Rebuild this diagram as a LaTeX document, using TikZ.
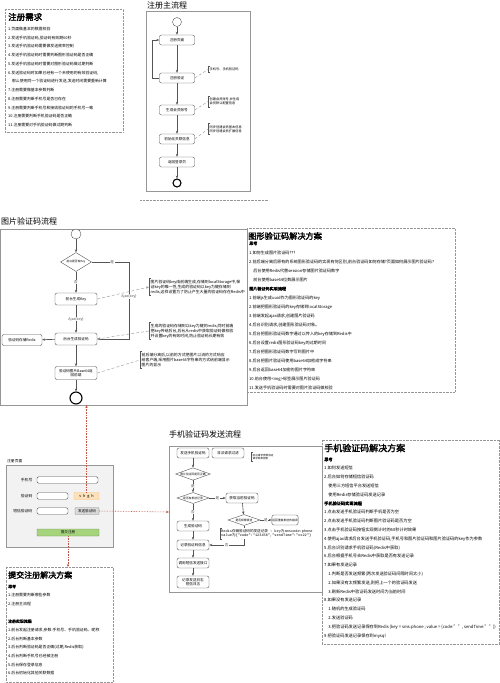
\documentclass[tikz,border=0pt]{standalone}
\usepackage{fontspec}
\setmainfont{Noto Sans CJK SC}[AutoFakeBold=2]
\setmonofont{Liberation Mono}
\usetikzlibrary{arrows.meta,positioning,shapes.geometric,calc}
\definecolor{lnGray}{RGB}{85,85,85}
\definecolor{frGray}{RGB}{150,150,150}
\definecolor{dotRed}{RGB}{190,85,70}
\definecolor{capOrange}{RGB}{252,226,186}
\definecolor{btnGreen}{RGB}{165,212,125}
\definecolor{btnGray}{RGB}{218,218,218}
\definecolor{formBg}{RGB}{242,242,242}

\begin{document}
\begin{tikzpicture}[x=1pt, y=-1pt, font=\fontsize{4}{5}\selectfont]
    \tikzset{flowbox/.style={rectangle, rounded corners=2pt, draw=lnGray, fill=white, minimum width=35,
      minimum height=10, inner sep=0.5pt, align=center, font=\fontsize{3.6}{4.4}\selectfont}}
    \tikzset{decision/.style={diamond, aspect=2.8, draw=lnGray, fill=white, inner sep=0.3pt,
      font=\fontsize{2.8}{3.2}\selectfont}}
    \tikzset{startdot/.style={circle, draw=lnGray, fill=white, minimum size=9, inner sep=0pt}}
    \tikzset{enddot/.style={circle, draw=black, line width=1.1pt, minimum size=10, inner sep=0pt}}
    \tikzset{flowarrow/.style={-{Stealth[length=3pt,width=2.4pt]}, lnGray, semithick}}
    \tikzset{notelink/.style={densely dashed, frGray}}
    \tikzset{notebar/.style={lnGray, thin}}
    \tikzset{notetext/.style={anchor=west, align=left, inner sep=1.5pt, font=\fontsize{3.9}{4.8}\selectfont}}
    \tikzset{soltext/.style={anchor=north west, align=left, inner sep=0pt, font=\fontsize{4.2}{8.8}\selectfont}}
    \tikzset{soltitle/.style={anchor=west, inner sep=0pt, font=\fontsize{9}{10}\selectfont\bfseries}}
    \tikzset{flowtitle/.style={anchor=west, inner sep=0pt, font=\fontsize{8}{9}\selectfont}}
    \tikzset{dotbox/.style={draw=frGray, densely dotted}}
    \tikzset{flowframe/.style={draw=frGray, thin}}
    \tikzset{formfield/.style={rectangle, rounded corners=1.5pt, draw=lnGray, fill=white,
      minimum height=6.5, inner sep=0pt, font=\fontsize{3.6}{4}\selectfont}}
    \tikzset{formlabel/.style={anchor=east, inner sep=0.5pt, font=\fontsize{3.8}{4.5}\selectfont}}
    \tikzset{pagelink/.style={densely dotted, dotRed, semithick, -{Stealth[length=3pt,width=2.4pt]}}}
    \tikzset{brlabel/.style={font=\fontsize{3.6}{4}\selectfont, fill=white, inner sep=0.5pt}}

    \fill[white, use as bounding box] (0,0) rectangle (500,683);

    % Registration requirements
    \draw[dotbox] (5,9) rectangle (123,132);
    \node[soltitle, font=\fontsize{8.5}{9}\selectfont\bfseries] (reqtitle) at (8,17) {注册需求};
    \node[soltext, font=\fontsize{3.9}{8.73}\selectfont] (reqlist) at (8,27) {%
      1.页面做基本的数据校验\\
      2.发送手机验证码,验证码有效期60秒\\
      3.发送手机验证码需要做发送频率控制\\
      4.发送手机验证码时需要判断图形验证码是否正确\\
      5.发送手机验证码时需要对图形验证码做过期判断\\
      6.发送验证码时如果已经有一个未使用的有效验证码,\\
      \quad 那么使用同一个验证码进行发送,发送时间需要重新计算\\
      7.注册需要做基本参数判断\\
      8.注册需要判断手机号是否已存在\\
      9.注册需要判断手机号和接收验证码的手机号一致\\
      10.注册需要判断手机验证码是否正确\\
      11.注册需要对手机验证码做过期判断};

    % Main registration flow
    \node[flowtitle] (mtitle) at (147,5) {注册主流程};
    \draw[flowframe] (146,11) rectangle (250,191);
    \node[startdot] (ms) at (177,22) {};
    \node[flowbox] (rp) at (177,40)  {注册页面};
    \node[flowbox] (rv) at (177,78)  {注册验证};
    \node[flowbox] (rg) at (177,110) {生成会员账号};
    \node[flowbox] (ri) at (177,139) {初始化关联信息};
    \node[flowbox] (rl) at (177,162) {返回登录页};
    \node[enddot, minimum size=8] (me) at (177,183) {};
    \draw[flowarrow] (ms) -- (rp);
    \draw[flowarrow] (rp) -- (rv);
    \draw[flowarrow] (rv) -- (rg);
    \draw[flowarrow] (rg) -- (ri);
    \draw[flowarrow] (ri) -- (rl);
    \draw[flowarrow] (rl) -- (me);
    \draw[flowarrow] (rv.west) -- ++(-7,0) |- (rp.west);
    \node[notetext, font=\fontsize{3.2}{4.4}\selectfont] (rn1) at (208,69.5)  {手机号、手机验证码};
    \node[notetext, font=\fontsize{3.2}{4.4}\selectfont] (rn2) at (208,101.5) {创建会员账号,并生成\\会员默认配置信息};
    \node[notetext, font=\fontsize{3.2}{4.4}\selectfont] (rn3) at (208,129)   {同步创建会员基本信息\\同步创建会员扩展信息};
    \draw[notelink] (rv.east) -- (rn1.west);
    \draw[notelink] (rg.east) -- (rn2.west);
    \draw[notelink] (ri.east) -- (rn3.west);
    \draw[dotbox] (140,200) -- (268,200);

    % Image captcha flow
    \node[flowtitle] (ititle) at (1,221) {图片验证码流程};
    \draw[flowframe] (0.5,229) rectangle (247,405);
    \coordinate (ifbot) at (87,405);
    \node[startdot, minimum size=10] (is) at (76,234) {};
    \node[decision, minimum width=31, minimum height=19] (ikey) at (76,262) {前台是否有Key};
    \node[flowbox, minimum width=42, minimum height=12] (igen) at (76,299) {前台生成Key};
    \node[flowbox, minimum width=42, minimum height=12] (icode) at (76,339) {后台生成验证码};
    \node[flowbox, minimum width=40, minimum height=11] (iredis) at (22,340) {验证码存储Redis};
    \node[flowbox, minimum width=42, minimum height=13] (ib64) at (76,373) {验证码图片Base64返\\回前端};
    \node[enddot, minimum size=12] (ie) at (76,398) {};
    \draw[flowarrow] (is) -- (ikey);
    \draw[flowarrow] (ikey) -- node[brlabel] {否} (igen);
    \draw[flowarrow] (igen) -- node[brlabel] {Ajax(key)} (icode);
    \draw[flowarrow] (ikey.east) -- node[brlabel, pos=0.55] {是} (129,262) -- node[brlabel, pos=0.45] {Ajax(key)} (129,339) -- (icode.east);
    \draw[flowarrow] (icode) -- (iredis);
    \draw[flowarrow] (icode) -- (ib64);
    \draw[flowarrow] (ib64) -- (ie);
    \node[notetext] (in1) at (149,287) {图片验证码key由前端生成,存储到localStorage中,保\\证key的唯一性,生成的验证码以key为键存储到\\redis,这样设置为了防止产生大量的验证码存在Redis中};
    \node[notetext] (in2) at (149,331) {生成的验证码存储到以key为键的redis,同时前端\\把key传给后台,后台从redis中获取验证码做校验\\并设置key的有效时间,防止验证码长期有效};
    \node[notetext] (in3) at (140,360) {前后端分离后,以前的方式把图片以流的方式响应\\给客户端,采用图片base64字符串的方式给前端显示\\图片的显示};
    \draw[notelink, -{Stealth[length=3pt,width=2.4pt]}] (igen.east) -- (in1.west);
    \draw[notelink, -{Stealth[length=3pt,width=2.4pt]}] (in2.west) -- (icode.east);
    \draw[notelink] (ib64.east) -- (in3.west);

    % Image captcha solution
    \draw[dotbox] (247,228) rectangle (455,392);
    \node[soltitle, font=\fontsize{8.2}{9}\selectfont\bfseries] (ititle2) at (248,236) {图形验证码解决方案};
    \node[soltext, font=\fontsize{4.1}{9.06}\selectfont] (isol) at (249,241.3) {%
      {\bfseries 思考}\\
      1.如何生成图片验证码???\\
      2.前后端分离后原有的系统图形验证码的实现有何区别,前台验证码如何存储?页面如何展示图片验证码?\\
      \quad 后台使用Redis代替session存储图片验证码数字\\
      \quad 前台使用base64位数展示图片\\
      {\bfseries 图片验证码实现流程}\\
      1.前端js生成uuid作为图形验证码的key\\
      2.前端把图形验证码的key存储到localStorage\\
      3.前端发起ajax请求,创建图片验证码\\
      4.后台识别请求,创建图形验证码对象。\\
      5.后台把图形验证码数字通过以传入的key存储到Redis中\\
      6.后台设置redis图形验证码key的过期时间\\
      7.后台把图形验证码数字写到图片中\\
      8.后台把图片验证码使用base64加密成字符串\\
      9.后台返回base64加密的图片字符串\\
      10.前台使用<img>标签展示图片验证码\\
      11.发送手机验证码时需要对图片验证码做校验};

    % Registration form
    \node[anchor=west, inner sep=0pt, font=\fontsize{3.8}{4.5}\selectfont] (ftitle) at (7,461) {注册页面};
    \draw[draw=frGray, fill=formBg] (6,465) rectangle (113,547);
    \node[formlabel] (lphone) at (33,480) {手机号};
    \node[formlabel] (lcode)  at (33,496) {验证码};
    \node[formlabel] (lsms)   at (33,511) {短信验证码};
    \node[formfield, minimum width=61] (fphone) at (67.5,480) {};
    \node[formfield, minimum width=31] (fcode)  at (52.5,496) {};
    \node[formfield, minimum width=25, minimum height=7, draw=orange!50, fill=capOrange, rounded corners=0.5pt,
          font=\fontsize{3.8}{4}\selectfont] (fcap) at (86.5,496) {v\,\,\,h\,\,\,g\,\,\,h};
    \node[formfield, minimum width=31] (fsms)   at (52.5,511) {};
    \node[formfield, minimum width=24, draw=gray, fill=btnGray, rounded corners=0.5pt] (fsend) at (87,511) {发送验证码};
    \node[formfield, minimum width=62, minimum height=7, draw=btnGreen!70!black, fill=btnGreen, rounded corners=0.5pt] (fsub) at (68,532.5) {提交注册};
    \coordinate (pfl) at (169,512);
    \coordinate (sbtop) at (68,567);
    \draw[pagelink] (fcap.north) -- (fcap.north |- ifbot);
    \draw[pagelink] (fsend.east) -- (pfl);
    \draw[pagelink] (fsub.south) -- (sbtop);

    % Submit solution
    \draw[dotbox] (6,567) rectangle (113,682);
    \node[soltitle, font=\fontsize{8}{9}\selectfont\bfseries] (stitle) at (8,575) {提交注册解决方案};
    \node[soltext, font=\fontsize{3.9}{8.7}\selectfont] (ssol) at (8,584.5) {%
      {\bfseries 思考}\\
      1.注册需要判断哪些参数\\
      2.注册主流程\\
      \\
      {\bfseries 注册实现流程}\\
      1.前台发起注册请求,参数:手机号、手机验证码、昵称\\
      2.后台判断基本参数\\
      3.后台判断验证码是否正确(过期,Redis获取)\\
      4.后台判断手机号已经被注册\\
      5.后台保存登录信息\\
      6.后台初始化其他关联数据};

    % Phone code flow
    \node[flowtitle] (ptitle) at (169,434) {手机验证码发送流程};
    \draw[flowframe] (169,446) rectangle (322,592);
    \node[flowbox, minimum width=32] (psend) at (193,453) {发送手机验证码};
    \node[flowbox, minimum width=32] (pfilter) at (228,453) {非法请求过滤};
    \node[notetext, font=\fontsize{2.6}{3.4}\selectfont] (pn1) at (251,457) {前台请求参数验证\\请求频率控制};
    \node[decision, minimum width=32, minimum height=11] (pd1) at (193,474) {图片验证码是否正确};
    \node[decision, minimum width=32, minimum height=11] (pd2) at (193,498) {是否有发送记录};
    \node[flowbox, minimum width=32] (pget) at (242,498) {获取当前验证码};
    \node[decision, minimum width=32, minimum height=11] (pd3) at (244,520) {是否频繁发送};
    \node[flowbox, minimum width=24, font=\fontsize{2.8}{3.4}\selectfont] (prep) at (285,520) {返回重复发送的错误};
    \node[flowbox, minimum width=32] (pnew) at (193,526) {生成验证码};
    \node[flowbox, minimum width=32] (prec) at (193,545) {记录验证码信息};
    \node[flowbox, minimum width=32] (pcall) at (193,563) {调用短信发送接口};
    \node[flowbox, minimum width=32, minimum height=12] (plog) at (193,582) {记录发送日志\\短信日志};
    \draw[flowarrow] (psend) -- (pd1);
    \draw[flowarrow] (pd1) -- node[brlabel] {是} (pd2);
    \draw[flowarrow] (pd2) -- node[brlabel] {是} (pget);
    \draw[flowarrow] (pd2) -- node[brlabel] {否} (pnew);
    \draw[flowarrow] (pget) -- (pd3);
    \draw[flowarrow] (pd3) -- node[brlabel] {是} (prep);
    \draw[flowarrow] (pd3.south) |- node[brlabel, pos=0.75] {否} (prec.east);
    \draw[flowarrow] (pnew) -- (prec);
    \draw[flowarrow] (prec) -- (pcall);
    \draw[flowarrow] (pcall) -- (plog);
    \node[notetext, anchor=north west, fill=white, inner sep=1pt, font=\fontsize{3.6}{4.6}\selectfont] (pn2) at (220,528)
      {\texttt{Redis{\rmfamily 存储验证码的发送记录} : key{\rmfamily 为}smscode:phone}\\
       \texttt{value{\rmfamily 为}\{"code":"123456","sendTime":"xx22"\}}};

    % Phone code solution
    \draw[dotbox] (322,440) rectangle (499.5,644);
    \node[soltitle] (ptitle2) at (324,448) {手机验证码解决方案};
    \node[soltext] (psol) at (324,457.3) {%
      {\bfseries 思考}\\
      1.如何发送短信\\
      2.后台如何存储短信验证码\\
      \quad 使用三方短信平台发送短信\\
      \quad 使用Redis存储验证码发送记录\\
      {\bfseries 手机验证码实现流程}\\
      1.点击发送手机验证码判断手机是否为空\\
      2.点击发送手机验证码判断图片验证码是否为空\\
      3.点击手机验证码按钮实现倒计时的60秒计时效果\\
      4.使用ajax请求后台发送手机验证码,手机号和图片验证码和图片验证码的key作为参数\\
      5.后台识别请求手机验证码(Redis中获取)\\
      6.后台根据手机号去Redis中获取是否有发送记录\\
      7.如果有发送记录\\
      \quad 1.判断是否发送频繁(两次发送验证码间隔时间太小)\\
      \quad 2.如果没有太频繁发送,则把上一个的验证码发送\\
      \quad 3.刷新Redis中验证码发送时间为当前时间\\
      8.如果没有发送记录\\
      \quad 1.随机的生成验证码\\
      \quad 2.发送验证码\\
      \quad 3.把验证码发送记录保存到Redis (key = sms:phone ; value = \{code:"", sendTime:""\})\\
      9.把验证码发送记录保存到mysql};

    % Brackets in front of the notes
    \foreach \n in {rn1, rn2, rn3, in1, in2, in3, pn1, pn2}{
      \draw[notebar] ([xshift=2pt]\n.north west) -- (\n.north west) -- (\n.south west) -- ([xshift=2pt]\n.south west);
    }
\end{tikzpicture}
\end{document}
